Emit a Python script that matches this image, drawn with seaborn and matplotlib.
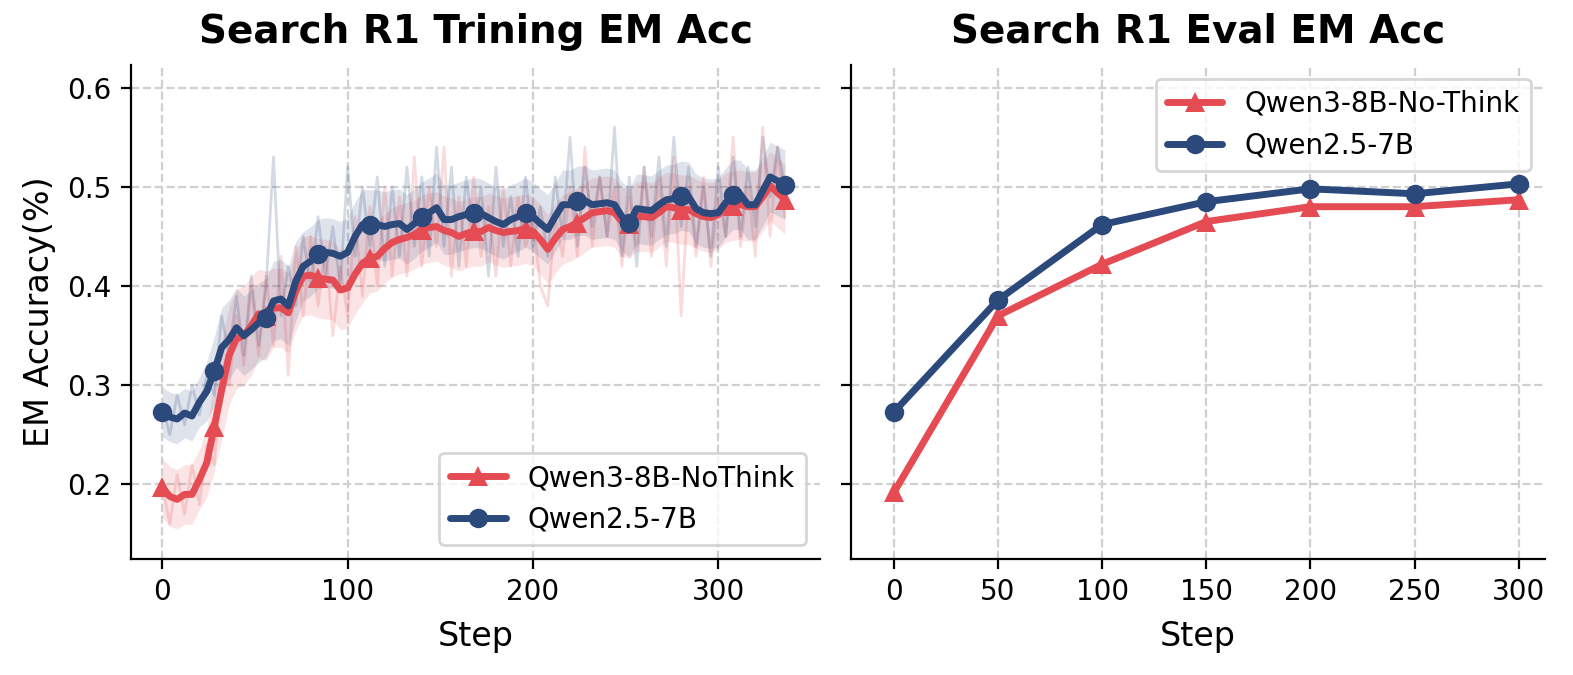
import numpy as np
import pandas as pd
import matplotlib
matplotlib.use("Agg")
import matplotlib.pyplot as plt
import seaborn as sns

# ---------------- data ----------------
train_steps = list(range(0, 337, 4))

qwen3_smooth = [0.197, 0.188, 0.185, 0.190, 0.190, 0.205, 0.222, 0.258, 0.295, 0.330,
                0.347, 0.350, 0.360, 0.372, 0.370, 0.378, 0.378, 0.373, 0.395, 0.410,
                0.411, 0.408, 0.407, 0.406, 0.396, 0.398, 0.412, 0.423, 0.428, 0.430,
                0.438, 0.444, 0.447, 0.449, 0.452, 0.457, 0.459, 0.460, 0.456, 0.454,
                0.450, 0.453, 0.455, 0.455, 0.459, 0.456, 0.454, 0.455, 0.456, 0.458,
                0.455, 0.447, 0.437, 0.448, 0.457, 0.460, 0.464, 0.469, 0.474, 0.475,
                0.476, 0.474, 0.465, 0.463, 0.470, 0.470, 0.469, 0.474, 0.480, 0.479,
                0.477, 0.477, 0.473, 0.470, 0.469, 0.472, 0.479, 0.481, 0.482, 0.480,
                0.480, 0.490, 0.501, 0.494, 0.487]
qwen25_smooth = [0.273, 0.268, 0.266, 0.272, 0.269, 0.283, 0.294, 0.314, 0.338, 0.346,
                 0.358, 0.350, 0.356, 0.363, 0.368, 0.385, 0.387, 0.380, 0.405, 0.420,
                 0.425, 0.432, 0.434, 0.433, 0.430, 0.434, 0.450, 0.462, 0.462, 0.462,
                 0.460, 0.462, 0.463, 0.457, 0.463, 0.470, 0.474, 0.479, 0.467, 0.467,
                 0.470, 0.472, 0.474, 0.473, 0.469, 0.465, 0.462, 0.467, 0.470, 0.474,
                 0.470, 0.463, 0.457, 0.470, 0.482, 0.482, 0.486, 0.486, 0.482, 0.483,
                 0.484, 0.482, 0.470, 0.464, 0.478, 0.477, 0.476, 0.482, 0.487, 0.488,
                 0.491, 0.490, 0.478, 0.474, 0.473, 0.474, 0.484, 0.492, 0.492, 0.482,
                 0.482, 0.496, 0.510, 0.506, 0.502]

qwen3_raw = [0.20, 0.16, 0.21, 0.17, 0.22, 0.18, 0.24, 0.22, 0.31, 0.30,
             0.37, 0.32, 0.40, 0.33, 0.41, 0.34, 0.43, 0.31, 0.44, 0.37,
             0.45, 0.38, 0.44, 0.35, 0.42, 0.37, 0.47, 0.39, 0.48, 0.40,
             0.50, 0.41, 0.49, 0.41, 0.53, 0.42, 0.50, 0.44, 0.54, 0.41,
             0.49, 0.42, 0.51, 0.43, 0.48, 0.41, 0.50, 0.42, 0.49, 0.44,
             0.47, 0.40, 0.38, 0.47, 0.43, 0.50, 0.43, 0.54, 0.44, 0.51,
             0.45, 0.50, 0.42, 0.49, 0.44, 0.52, 0.43, 0.51, 0.42, 0.53,
             0.37, 0.50, 0.43, 0.51, 0.42, 0.49, 0.45, 0.55, 0.44, 0.50,
             0.43, 0.56, 0.45, 0.54, 0.47]
qwen25_raw = [0.28, 0.25, 0.29, 0.26, 0.30, 0.27, 0.31, 0.29, 0.37, 0.33,
              0.39, 0.33, 0.41, 0.34, 0.40, 0.53, 0.37, 0.42, 0.38, 0.45,
              0.40, 0.47, 0.41, 0.46, 0.40, 0.52, 0.43, 0.50, 0.44, 0.51,
              0.42, 0.50, 0.43, 0.52, 0.44, 0.51, 0.43, 0.54, 0.44, 0.52,
              0.42, 0.51, 0.45, 0.50, 0.41, 0.52, 0.44, 0.49, 0.43, 0.51,
              0.44, 0.48, 0.43, 0.51, 0.45, 0.55, 0.44, 0.52, 0.46, 0.51,
              0.45, 0.56, 0.43, 0.51, 0.42, 0.52, 0.45, 0.53, 0.44, 0.55,
              0.46, 0.52, 0.44, 0.50, 0.43, 0.52, 0.45, 0.53, 0.45, 0.52,
              0.46, 0.55, 0.49, 0.54, 0.50]

qwen3_band = [0.030, 0.030, 0.030, 0.030, 0.030, 0.030, 0.035, 0.045, 0.050, 0.050,
              0.050, 0.050, 0.050, 0.045, 0.045, 0.040, 0.040, 0.040, 0.040, 0.040,
              0.040, 0.040, 0.040, 0.040, 0.040, 0.040, 0.040, 0.040, 0.035, 0.035,
              0.035, 0.035, 0.035, 0.035, 0.035, 0.035, 0.035, 0.035, 0.035, 0.035,
              0.035, 0.035, 0.035, 0.035, 0.035, 0.035, 0.035, 0.035, 0.035, 0.035,
              0.035, 0.035, 0.035, 0.035, 0.035, 0.035, 0.035, 0.035, 0.035, 0.035,
              0.035, 0.035, 0.035, 0.035, 0.035, 0.035, 0.035, 0.035, 0.035, 0.035,
              0.035, 0.035, 0.035, 0.035, 0.035, 0.035, 0.035, 0.035, 0.035, 0.035,
              0.035, 0.035, 0.035, 0.035, 0.035]
qwen25_band = [0.025, 0.025, 0.025, 0.025, 0.025, 0.025, 0.030, 0.035, 0.040, 0.040,
               0.040, 0.040, 0.040, 0.040, 0.040, 0.040, 0.040, 0.040, 0.040, 0.035,
               0.035, 0.035, 0.035, 0.035, 0.035, 0.035, 0.035, 0.035, 0.035, 0.035,
               0.035, 0.035, 0.035, 0.035, 0.035, 0.035, 0.035, 0.035, 0.035, 0.035,
               0.035, 0.035, 0.035, 0.035, 0.035, 0.035, 0.035, 0.035, 0.035, 0.035,
               0.035, 0.035, 0.035, 0.035, 0.035, 0.035, 0.035, 0.035, 0.035, 0.035,
               0.035, 0.035, 0.035, 0.035, 0.035, 0.035, 0.035, 0.035, 0.035, 0.035,
               0.035, 0.035, 0.035, 0.035, 0.035, 0.035, 0.035, 0.035, 0.035, 0.035,
               0.035, 0.035, 0.035, 0.035, 0.035]

eval_steps = [0, 50, 100, 150, 200, 250, 300]
qwen3_eval = [0.192, 0.370, 0.422, 0.465, 0.480, 0.480, 0.487]
qwen25_eval = [0.273, 0.386, 0.462, 0.485, 0.498, 0.493, 0.503]

RED = "#E54B52"
BLUE = "#2C497C"

# ---------------- plot ----------------
sns.set_style("ticks")
plt.rcParams["font.family"] = ["DejaVu Sans"]
plt.rcParams["text.color"] = "black"
plt.rcParams["axes.labelcolor"] = "black"
plt.rcParams["xtick.color"] = "black"
plt.rcParams["ytick.color"] = "black"
plt.rcParams["axes.edgecolor"] = "black"

fig = plt.figure(figsize=(7.865, 3.375), dpi=200)
ax1 = fig.add_axes([0.0833, 0.172, 0.438, 0.732])
ax2 = fig.add_axes([0.541, 0.172, 0.441, 0.732], sharey=ax1)

steps = np.array(train_steps)
series = [
    ("Qwen3-8B-NoThink", qwen3_smooth, qwen3_raw, qwen3_band, RED, "^"),
    ("Qwen2.5-7B", qwen25_smooth, qwen25_raw, qwen25_band, BLUE, "o"),
]
for label, sm, raw, band, col, mk in series:
    sm = np.array(sm)
    band = np.array(band)
    ax1.fill_between(steps, sm - band, sm + band, color=col, alpha=0.15, lw=0)
    sns.lineplot(x=steps, y=raw, ax=ax1, color=col, alpha=0.2, lw=1.0)
for label, sm, raw, band, col, mk in series:
    sns.lineplot(x=steps, y=sm, ax=ax1, color=col, lw=2.5, marker=mk,
                 markersize=7, markevery=7, markeredgewidth=0, label=label)

for label, vals, col, mk in [("Qwen3-8B-No-Think", qwen3_eval, RED, "^"),
                             ("Qwen2.5-7B", qwen25_eval, BLUE, "o")]:
    sns.lineplot(x=eval_steps, y=vals, ax=ax2, color=col, lw=2.5, marker=mk,
                 markersize=7, markeredgewidth=0, label=label)

ax1.set_xlim(-16.9, 354.9)
ax2.set_xlim(-20.6, 312.5)
ax1.set_ylim(0.125, 0.623)
ax1.set_xticks([0, 100, 200, 300])
ax2.set_xticks(eval_steps)
ax1.set_yticks([0.2, 0.3, 0.4, 0.5, 0.6])
ax2.tick_params(labelleft=False)

for ax, title in [(ax1, "Search R1 Trining EM Acc"), (ax2, "Search R1 Eval EM Acc")]:
    ax.grid(True, linestyle="--", color="#d0d0d0", lw=0.8)
    ax.set_axisbelow(True)
    ax.set_title(title, fontsize=14, fontweight="bold", pad=8, color="black")
    ax.set_xlabel("Step", fontsize=12, labelpad=5)
    ax.tick_params(labelsize=10, colors="black")
    sns.despine(ax=ax)

ax1.set_ylabel("EM Accuracy(%)", fontsize=12)
ax2.set_ylabel("")

for ax, loc in [(ax1, "lower right"), (ax2, "upper right")]:
    leg = ax.legend(loc=loc, fontsize=10, framealpha=0.8, edgecolor="#cccccc")
    for t in leg.get_texts():
        t.set_color("black")

fig.savefig("out.png", dpi=200)
